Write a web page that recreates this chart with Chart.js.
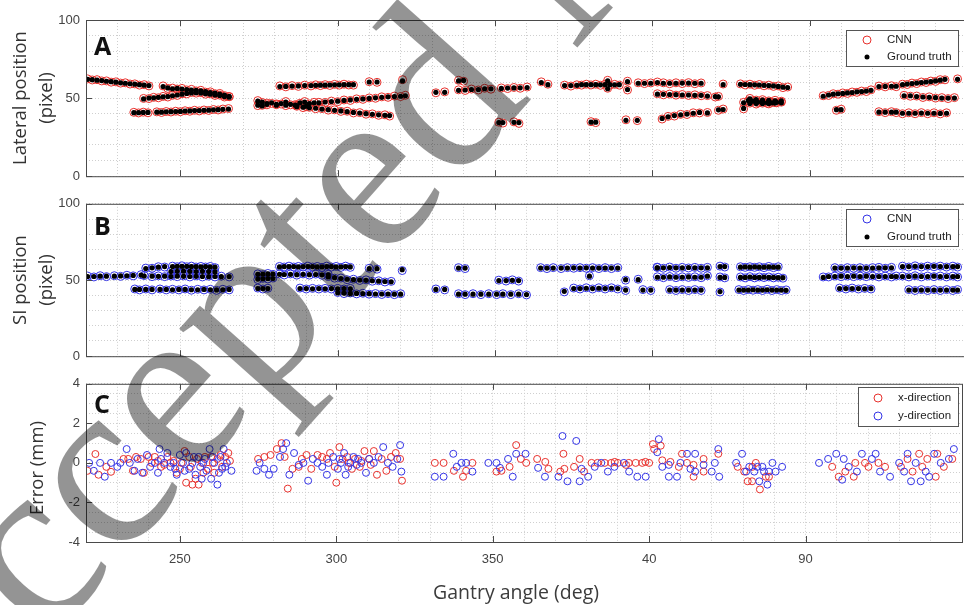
<!DOCTYPE html>
<html>
<head>
<meta charset="utf-8">
<script src="https://cdn.jsdelivr.net/npm/chart.js@4.4.1/dist/chart.umd.min.js"></script>
<style>
  html, body { margin: 0; padding: 0; background: #fff; width: 964px; height: 605px; overflow: hidden; }
  canvas { position: absolute; left: 0; }
  #marcaAgua { top: 0; pointer-events: none; }
</style>
</head>
<body>
<canvas id="panelA" style="top:0" width="972" height="190"></canvas>
<canvas id="panelB" style="top:190px" width="972" height="180"></canvas>
<canvas id="panelC" style="top:370px" width="972" height="235"></canvas>
<canvas id="marcaAgua" width="964" height="605"></canvas>
<script>
// ============================================================
//  Posiciones y errores vs. ángulo de gantry (3 paneles)
// ============================================================

const MARCAS_X    = [250, 300, 350, 400, 450];
const ETIQUETAS_X = ['250', '300', '350', '40', '90'];
const MARCAS_POS  = [0, 50, 100];
const MARCAS_ERR  = [-4, -2, 0, 2, 4];

// ---------------- Panel A: posición lateral (pixel) ----------------
const anguloA = [
  220.5,222,223.5,225,226.5,228,229.5,231,232.5,234,235.5,237,238.5,240,
  244.5,246,247.5,249,250.5,252,253.5,255,256.5,258,259.5,261,262.5,264,265.5,
  238.3,240,241.5,243,244.5,246,247.5,249,250.5,252,253.5,255,256.5,258,259.5,261,262.5,264,265.5,
  235.2,236.7,238.2,239.7,242.5,244,245.5,247,248.5,250,251.5,253,254.5,256,257.5,259,260.5,262,263.5,265.3,
  274.6,276,277.5,279,280.5,282,283.5,285,286.5,288,289.5,291,292.5,
  274.6,276,277.5,280.5,283.5,287,290,
  281.6,283.5,285.5,287.5,289.5,291.5,293,294.5,296,297.5,299,300.5,302,303.5,305,
  310,312.5,320.6,
  294,296,298,300,302,304,306,308,310,312,314,316,318,320,321.5,
  287,289,291,293,295,297,299,301,303,305,307,309,311,313,315,316.5,
  331.2,334,338.4,340.5,342.5,344.7,346.7,348.7,352,354,356,358,360.2,
  338.4,340,351.2,352.5,356,357.6,
  364.7,366.8,372.1,374.1,376,377.5,379,380.5,382,383.5,385,386.5,388,389.5,
  385.8,385.8,392.1,392.1,395.5,397.5,399.5,380.5,382,391.6,395.2,
  401.6,403.5,405.5,407.5,409.5,411.5,413.5,415.5,
  401.6,403.5,405.5,407.5,409.5,411.5,413.5,415.5,417.5,
  403.1,405,407,409,411,413,415,417.5,
  421,422.5,421,422.5,420,
  428,429.5,431,432.5,434,435.5,437,438.5,440,441.5,443,
  429,430.5,432,433.5,435,436.5,438,439.5,441,
  429,431,433,435,437,439,
  431,433,435,437,439,441,
  454.3,456,457.5,459,460.5,462,463.5,465,466.5,468,469.5,
  458.5,460,472,474,476,477.5,
  479.5,481,482.5,484,485.5,487,488.5,490,491.5,493,497,
  480,482,484,486,488,490,492,494,496,
  472,474,476,477.5,479.5,481.5,483.5,485.5,487.5,489.5,491.5,493.5
];
const lateralReal = [
  62,61.8,61.5,61.2,60.8,60.5,60.2,59.8,59.5,59.2,58.9,58.6,58.3,58,
  57.4,56.5,56,56.2,55.8,55.5,55.2,55,54.6,54.2,53.6,53.2,52.6,52,51.2,
  49.5,50,50.2,50.5,50.8,51,51.5,52,52.5,53,53.3,53.5,53.2,52.8,52.5,52,51.6,51,50.6,
  40.7,40.7,40.8,40.8,41,41,41.2,41.3,41.4,41.5,41.7,41.8,42,42,42.2,42.3,42.5,42.6,42.8,43,
  48,47.5,46.5,47,46,46.5,47.5,46,45.5,47,47.5,46.5,47,
  45.5,45,46,45.5,45.5,45.2,44.8,
  57.4,57.5,57.7,57.8,58,58,58.2,58.3,58.3,58.4,58.5,58.5,58.6,58.6,58.6,
  60.3,60.3,61,
  47,47.5,47.8,48,48.5,48.8,49.2,49.5,49.8,50.2,50.5,50.8,51,51.2,51.5,
  44.5,44.2,43.8,43.5,43,42.6,42.2,41.8,41.3,40.8,40.4,40,39.6,39.3,39,38.8,
  53.7,53.7,55,55.2,55.5,55.5,56,56,56.2,56.4,56.5,56.6,56.8,
  61,61.3,34.3,34.3,34.5,34.3,
  60,58.6,58,58,58.2,58.6,58.6,58.6,58.6,58.5,58.6,58.6,58.5,58.6,
  61,56,60.5,55.5,59.5,59.5,59.5,34.6,34.6,35.8,35.8,
  60,59.5,59.5,59.5,59.6,59.6,59.5,59.5,
  52.5,52.4,52.3,52.2,52,52,51.8,51.8,51.3,
  37,38,38.8,39.3,39.8,40.3,40.8,40.5,
  50.8,58.6,42.5,42.7,51,
  58.8,58.7,58.6,58.5,58.4,58.2,58,57.8,57.5,57,56.8,
  47,48.5,48,47.5,47.5,47,47,47.3,47,
  43.4,46.5,46.5,46.5,46.6,46.8,
  49.5,49,48.7,48.5,48.3,48.3,
  51.2,52,52.5,52.8,53,53.3,53.6,54,54.2,54.5,55,
  42.6,42.6,57.4,57.5,57.6,57.6,
  58.6,59,59.3,59.6,60,60.3,60.6,61,61.5,62,62,
  51.5,51.5,51,50.7,50.5,50.3,50,50,50,
  41,41,41,41,40.3,40.3,40.3,40.4,40.3,40.3,40.2,40.3
];
const lateralCNN = [
  62.3,61.6,61.8,61,61,60.2,60.4,59.6,59.8,59,59.1,58.3,58.6,57.8,
  57.8,56.2,56.4,55.8,56.2,55.2,55.6,54.6,55,53.8,54,52.8,53,51.6,51,
  49.8,49.7,50.5,50.2,51.1,50.7,51.8,51.7,52.8,52.7,53.6,53.2,53.5,52.5,52.8,51.7,51.9,50.7,50.9,
  40.9,40.5,41,40.6,41.2,40.8,41.4,41.1,41.6,41.3,41.9,41.6,42.2,41.8,42.4,42.1,42.7,42.4,43,43.3,
  48.4,47.2,46.8,46.6,46.3,46.2,47.8,45.7,45.8,46.7,47.8,46.2,47.3,
  45.2,45.4,45.7,45.8,45.2,45.5,44.5,
  57.8,57.2,58,57.5,58.3,57.8,58.5,58,58.6,58.1,58.8,58.3,58.9,58.4,58.3,
  60.5,60.1,61.8,
  47.3,47.2,48.1,47.7,48.8,48.5,49.5,49.2,50.1,49.9,50.8,50.5,51.3,51,51.8,
  44.8,43.9,44.1,43.2,43.3,42.3,42.5,41.5,41.6,40.5,40.7,39.7,39.9,39,39.3,38.5,
  53.4,54,55.3,54.9,55.8,55.2,56.3,55.7,56.5,56.1,56.8,56.3,57.1,
  61.4,60.8,34.6,34,34.8,33.8,
  60.4,58.9,58.3,57.7,58.5,58.3,58.9,58.4,58.9,58.2,58.9,58.3,58.8,58.3,
  61.4,56.3,60.8,55.2,59.8,59.3,59.7,34.9,34.3,36.1,35.6,
  60.3,59.8,59.2,59.8,59.3,59.9,59.2,59.7,
  52.8,52.1,52.6,51.9,52.3,51.7,52.1,51.5,51.6,
  36.6,38.3,38.5,39.6,39.5,40.6,40.5,40.8,
  51.1,59,42.2,43,50.7,
  59.1,58.4,58.9,58.2,58.7,57.9,58.3,57.5,57.8,56.7,57.1,
  47.3,48.2,48.3,47.2,47.8,46.7,47.3,47,47.4,
  43.1,46.8,46.2,46.8,46.3,47.1,
  49.8,48.7,49,48.2,48.6,48,
  51.5,51.7,52.8,52.5,53.3,53,53.9,53.7,54.5,54.2,55.3,
  42.2,42.9,57.7,57.2,57.9,57.3,
  58.9,58.7,59.6,59.3,60.3,60,60.9,60.7,61.8,61.7,62.3,
  51.8,51.2,51.3,50.4,50.8,50,50.3,49.7,50.3,
  41.3,40.7,41.3,40.7,40,40.6,40,40.7,40,40.6,39.9,40.6
];

// ---------------- Panel B: posición SI (pixel) ----------------
const anguloB = [
  220.5,222.5,224.5,226.5,229,231,233,235,237.5,
  239,241,243,245,247.5,249,250.5,252,253.5,255,256.5,258,259.5,261,
  247,249,251,253,255,257,259,261,
  238.5,241,243,245,247,249,251,253,255,257,259,261,263,265.5,
  235.5,237,239,241,243.5,245.5,247.5,249.5,251.5,253.5,255.5,257.5,259.5,261.5,263.5,265.5,
  274.6,276.2,277.8,279.4,
  274.6,276.2,277.8,279.4,
  274.6,276.2,277.8,
  281.5,283,284.5,286,287.5,289,290.5,292,293.5,295,296.5,298,299.5,301,302.5,304,
  281.5,283,285,287,289,291,293,295,297,
  297,299,301,303,305,307,309,311,313,315,317,
  288,290,292,294,296,298,300,302,304,
  300,302,304,306,308,310,312,314,316,318,320,
  310,312.5,320.5,
  331.2,334,
  338.4,340.5,
  338.4,340.5,343,345.5,348,350.5,352.5,355,357.5,360,
  351.2,353.5,355.5,357.5,
  364.5,366.5,368.5,371,373,375,377,379,381,383,385,387,389,
  372,375,377,379,381,383,385,387,389,
  380,391.5,395.5,391.5,397,399.5,401.5,
  401.6,403.5,405.5,407.5,409.5,411.5,413.5,415.5,417.5,421.5,423,
  401.6,403.5,405.5,407.5,409.5,411.5,413.5,415.5,417.5,421.5,423,
  405.5,407.5,409.5,411.5,413.5,415.5,421.5,
  428,429.5,431,432.5,434,435.5,437,438.5,440,
  428,429.5,431,432.5,434,435.5,437,438.5,440,441.5,
  427.5,429,430.5,432,433.5,435,436.5,438,439.5,441,442.5,
  454.3,456,458,460,462,464,466,468,470,472,474,476,477.5,
  458,460,462,464,466,468,470,472,474,476,
  459.5,461.5,463.5,465.5,467.5,469.5,
  479.5,481.5,483.5,485.5,487.5,489.5,491.5,493.5,495.5,497,
  479.5,481.5,483.5,485.5,487.5,489.5,491.5,493.5,495.5,497,
  481.5,483.5,485.5,487.5,489.5,491.5,493.5,495.5,497
];
const siReal = [
  52.3,52.3,52.5,52.5,52.5,52.7,52.8,53,53.2,
  57.5,58,58.4,58.8,58.8,59,59,59,58.8,58.8,58.6,58.8,58.6,58.4,
  55.5,55.7,55.8,55.7,55.5,55.7,55.5,55.3,
  52.6,52.5,52.4,52.5,52.3,52.5,52.4,52.3,52.4,52.3,52.2,52.3,52.2,52.3,
  43.8,43.8,43.8,43.8,43.8,43.8,43.6,43.8,43.8,43.6,43.6,43.8,43.6,43.5,43.6,43.8,
  53.7,53.8,54,54,
  50.6,50.8,51,51,
  44.4,44.4,44.4,
  58.6,58.8,58.8,58.8,58.6,58.8,58.8,58.8,58.6,58.6,58.8,58.8,58.6,58.6,58.8,58.6,
  53.7,53.6,53.7,53.5,53.7,53.5,53.6,53.4,53.4,
  52,51.5,51,50.5,50.2,50,49.8,49.5,49.2,49,48.8,
  44.4,44.4,44.2,44.4,44.2,44.4,44.2,44.4,44.2,
  41.5,41.4,41.2,41.2,41,41,40.8,40.8,40.8,40.7,40.7,
  57.4,57.4,56.8,
  43.8,43.8,
  57.8,57.8,
  40.7,40.7,40.7,40.7,40.7,40.7,40.7,40.7,40.7,40.5,
  49.6,49.6,49.8,49.6,
  57.8,57.8,57.8,57.8,57.8,58,57.8,58,57.8,57.8,57.8,57.8,57.8,
  42.6,44.4,44.4,44.6,44.4,44.6,44.4,44.6,44.4,
  52.5,50.2,50.2,43.4,43.4,43.4,58,
  58,58,58.2,58,58,58.2,58,58,58,58.8,58.8,
  51.8,51.8,52,51.8,51.8,52,51.8,51.8,52.5,51.7,51.7,
  43.4,43.4,43.4,43.4,43.4,43.4,42.4,
  58.4,58.6,58.4,58.6,58.4,58.4,58.6,58.4,58.4,
  51.7,51.7,51.9,51.7,51.7,51.9,51.7,51.7,51.5,51.5,
  43.4,43.4,43.4,43.6,43.4,43.4,43.6,43.4,43.4,43.4,43.2,
  51.7,52.3,52.3,52.5,52.3,52.5,52.3,52.5,52.3,52.3,52.3,52.3,52.3,
  57.8,57.8,57.8,58,57.8,57.8,57.8,58,58,58,
  44.4,44.4,44.4,44.4,44.2,44.4,
  58.8,58.8,59,58.8,58.8,59,58.8,58.8,58.8,58.8,
  52.3,52.3,52.5,52.3,52.3,52.5,52.3,52.3,52.3,52.3,
  43.4,43.4,43.4,43.4,43.4,43.4,43.4,43.4,43.4
];
const siCNN = [
  52.6,52,52.8,52.2,52.8,52.4,53.1,52.7,53.5,
  57.8,57.7,58.7,58.5,59.1,58.7,59.3,58.7,59.1,58.5,58.9,58.5,58.9,58.1,
  55.8,55.4,56.1,55.4,55.8,55.4,55.8,55,
  52.9,52.2,52.7,52.2,52.6,52.2,52.7,52,52.7,52,52.5,52,52.5,52,
  44.1,43.5,44.1,43.5,44.1,43.5,43.9,43.5,44.1,43.3,43.9,43.5,43.9,43.2,43.9,43.5,
  54,53.5,54.3,53.7,
  50.3,51.1,50.7,51.3,
  44.7,44.1,44.6,
  58.9,58.5,59.1,58.5,58.9,58.5,59.1,58.5,58.9,58.3,59.1,58.5,58.9,58.3,59.1,58.3,
  54,53.3,54,53.2,54,53.2,53.9,53.1,53.7,
  52.3,51.2,51.3,50.2,50.5,49.7,50.1,49.2,49.5,48.7,49.1,
  44.7,44.1,44.5,44.1,44.5,44.1,44.5,44.1,44.5,
  41.8,41.1,41.5,40.9,41.3,40.7,41.1,40.5,41.1,40.4,41,
  57.7,57.1,56.2,
  44.1,43.5,
  58.1,57.5,
  41,40.4,41,40.4,41,40.4,41,40.4,41,40.2,
  49.9,49.3,50.1,49.3,
  58.1,57.5,58.1,57.5,58.1,57.7,58.1,57.7,58.1,57.5,58.1,57.5,58.1,
  42.2,44.7,44.1,44.9,44.1,44.9,44.1,44.9,44.1,
  52.8,49.9,50.5,43.1,43.7,43.1,58.4,
  58.3,57.7,58.5,57.7,58.3,57.9,58.3,57.7,58.3,59.1,58.5,
  52.1,51.5,52.3,51.5,52.1,51.7,52.1,51.5,52.8,52,51.4,
  43.7,43.1,43.7,43.1,43.7,43.1,42.1,
  58.7,58.3,58.7,58.3,58.7,58.1,58.9,58.1,58.7,
  52,51.4,52.2,51.4,52,51.6,52,51.4,51.8,51.2,
  43.7,43.1,43.7,43.3,43.7,43.1,43.9,43.1,43.7,43.1,43.5,
  52,52,52.6,52.2,52.6,52.2,52.6,52.2,52.6,52,52.6,52,52.6,
  58.1,57.5,58.1,57.7,58.1,57.5,58.1,58.3,57.7,58.3,
  44.7,44.1,44.7,44.1,44.5,44.1,
  59.1,58.5,59.3,58.5,59.1,58.7,59.1,58.5,59.1,58.5,
  52.6,52,52.8,52,52.6,52.2,52.6,52,52.6,52,
  43.7,43.1,43.7,43.1,43.7,43.1,43.7,43.1,43.7
];

// ---------------- Panel C: error (mm) ----------------
const anguloErrX = [
  220.5,223,224,226.5,228,232,233.5,235,236,237.5,238.5,240,241,242,243,244,245,246,247,248,249,250,250.5,251.5,252,253,253.5,254,255,255.5,256,257,257.5,258,259,260,260.5,261,262,263,263.5,264.5,265.5,266,
  275,277,279,281,282.5,283.5,284.5,286,288,289,290.5,292,294,295.5,297,
  298,299.5,300,301,302,303.5,304,305,306,307.5,308,309,310.5,311,312,313,314.5,316,317.5,319,320.4,321,
  331.5,334.3,337.6,340.5,341.5,343.5,351.2,352.8,355.4,357.5,359,360.7,364.2,366.8,367.8,371.6,372.6,372.9,376,377.8,379.2,381.6,385.8,387.9,390,392.6,395.7,397.8,400,401.6,383.5,389,393.5,398.8,
  401.2,403.7,404.2,406.8,409.5,410.5,412.1,414.2,414.2,417.4,417.4,422.1,
  428.3,430.4,431.5,432.9,433,434.1,435.4,437.3,438.3,
  458.5,460.6,462.7,465.4,465.9,469,470.1,473.3,475.4,480.5,482.6,484.2,486.3,487.3,488.9,491.6,492.1,494.2,496.9
];
const errorX = [
  -0.4,0.45,-0.6,-0.2,-0.45,0.2,0.2,-0.4,0.3,0.2,-0.5,0.3,0,0.3,0.1,-0.2,-0.1,0.3,0,0.1,-0.5,-0.3,0,0.6,-1.0,0.3,-0.2,-1.1,-0.8,0.2,-1.1,0,-0.5,0.3,-0.3,0.3,0,-0.5,0.2,0.4,-0.2,0.3,0.5,0.1,
  0.2,0.3,0.4,0.7,1.0,0.3,-1.3,-0.3,-0.2,0.2,0.4,-0.3,0.4,0.3,0.2,
  0.5,-0.2,-1.0,0.8,0.2,0.3,0,-0.3,0.2,-0.2,0.1,0.6,0.2,-0.1,0.6,-0.6,0.2,-0.4,0.3,0.5,0.2,-0.9,
  0,0,-0.4,-0.7,-0.4,0,-0.44,-0.4,-0.2,0.9,0.2,0,0.2,0.05,-0.3,-0.44,0.46,-0.3,-0.2,0.2,-0.44,0,0,0,0,-0.1,0,0,0,0.7,0,0.05,0,0.05,
  0.95,0.87,0.13,0.05,-0.2,0.46,0,-0.7,-0.1,0.2,-0.44,0.46,
  -0.2,-0.44,-0.93,-0.93,-0.2,0,-1.34,-0.7,-0.7,
  -0.2,-0.7,-0.44,-0.7,0,0,-0.2,0,-0.2,-0.2,0.2,-0.44,0.46,-0.2,0.2,-0.7,0.46,-0.2,0.2
];
const anguloErrY = [
  221,222.5,224.5,226,228,230,231,233,234,235.5,236.5,238,239.5,240.5,242,243,243.5,244,245,246,247,248,248.5,249,250,251,251.5,252,253,254,254.5,255,256,256.5,257,257.5,258,258.5,259.5,260,260.5,261,262,262.5,263,263.5,264,264.5,265,266.5,
  274.5,275.5,277,278.5,280,282,283,284,285,286.5,288,289.5,291,292.5,294,295.5,297,
  297.5,299,300.5,301,301.5,302.5,303,303.8,304.5,305.5,306.5,307,308,309.5,310.5,312,313.5,315,316.5,318,319.5,320.4,320.8,
  331.5,334.3,337.4,338.5,340,341.5,343.5,348.6,351.2,352.3,354.9,356.4,357.5,360.5,364.5,366.7,371,372.3,373.9,376.7,377.8,378.4,380.5,382.6,384.7,386.8,388.9,391.9,393.6,396.2,398.9,
  402.6,403.1,404.2,406.3,406.3,408.9,410,412.1,413.2,414.7,414.7,417.4,420,421,422.1,422.4,
  427.8,429.7,431,432,433.6,434.6,435.2,436.2,436.7,437.8,438.3,439.4,440.4,442.5,
  454.3,457.2,459.8,461.7,462.2,463.8,466.4,468,471.2,472.4,473.8,477,479.9,481.5,482.6,483.7,485.2,486.8,488.4,489.5,491.1,493.2,495.8,497.4
];
const errorY = [
  0,-0.4,0,-0.7,0,-0.2,0,0.7,0,-0.4,0.2,-0.5,0.4,-0.2,0,-0.5,0.7,0.2,0,0.5,-0.2,0,-0.3,-0.6,0.4,0,-0.4,0.5,-0.3,0,0.3,-0.6,0.3,-0.2,-0.8,0,0.2,-0.4,0.7,-0.8,0.3,0,-1.1,-0.5,0.3,-0.3,0.7,-0.2,0,-0.4,
  -0.4,0,-0.3,-0.6,-0.3,0.3,0.7,1.0,-0.6,0.5,-0.1,0,-0.9,0.2,0,-0.2,-0.6,
  0,0.3,-0.3,0.2,0,0.5,-0.6,-0.2,0,0.3,-0.1,0.2,0,-0.5,0.2,0,0.3,0.8,0,-0.2,0.2,0.9,-0.44,
  -0.7,-0.7,0.46,-0.2,0,0,-0.44,0,0,-0.25,0.2,-0.7,0.46,0.46,-0.25,-0.7,-0.7,1.36,-0.93,1.11,-0.93,-0.3,-0.7,-0.2,0,-0.44,-0.2,0,-0.44,-0.7,-0.7,
  0.54,1.2,-0.2,-0.1,-0.7,-0.7,0,0.46,-0.3,0.46,-0.44,-0.1,-0.44,0,0.7,-0.7,
  0,0.46,-0.44,-0.2,-0.44,-0.2,-0.93,-0.2,-0.44,-1.1,-0.44,0,-0.44,-0.2,
  0,0.2,0.46,-0.85,0.2,-0.2,-0.44,0.46,0.2,0.46,-0.44,-0.7,0,-0.44,0.46,-0.93,0,-0.93,-0.44,-0.7,0.46,0,0.2,0.7
];

// ---------------------------------------------------------------
// Estilos
// ---------------------------------------------------------------
const ROJO  = '#e8312d';
const AZUL  = '#3434e6';
const NEGRO = '#000000';
const REJILLA = '#cfcfcf';
const FUENTE_TICKS = { family: '"Liberation Sans", Arial, sans-serif', size: 13 };

function puntos(xs, ys) {
  return xs.map((x, i) => ({ x: x, y: ys[i] }));
}

// ---------------------------------------------------------------
// Marco estilo MATLAB, letra del panel, título Y y leyenda
// ---------------------------------------------------------------
const marcoPlugin = {
  id: 'marco',
  afterDraw(chart, args, p) {
    const { ctx, chartArea: a } = chart;
    const sx = chart.scales.x, sy = chart.scales.y;
    ctx.save();

    ctx.strokeStyle = '#4a4a4a';
    ctx.lineWidth = 1;
    ctx.strokeRect(a.left + 0.5, a.top + 0.5, a.right - a.left, a.bottom - a.top);
    ctx.beginPath();
    MARCAS_X.forEach(v => {
      const x = Math.round(sx.getPixelForValue(v)) + 0.5;
      ctx.moveTo(x, a.top); ctx.lineTo(x, a.top + 6);
      ctx.moveTo(x, a.bottom); ctx.lineTo(x, a.bottom - 6);
    });
    p.marcasY.forEach(v => {
      const y = Math.round(sy.getPixelForValue(v)) + 0.5;
      ctx.moveTo(a.left, y); ctx.lineTo(a.left + 6, y);
    });
    ctx.stroke();

    // letra del panel
    ctx.fillStyle = '#111';
    ctx.font = 'bold 25px "Open Sans", sans-serif';
    ctx.textAlign = 'left';
    ctx.textBaseline = 'alphabetic';
    ctx.fillText(p.letra, 94, p.letraY);

    // título eje Y
    ctx.fillStyle = '#333';
    ctx.font = '18.5px "Open Sans", sans-serif';
    ctx.textAlign = 'center';
    ctx.textBaseline = 'middle';
    p.tituloY.forEach((t, i) => {
      ctx.save();
      ctx.translate(p.tituloYX[i], p.tituloYY);
      ctx.rotate(-Math.PI / 2);
      ctx.fillText(t, 0, 0);
      ctx.restore();
    });

    // leyenda
    const L = p.leyenda;
    ctx.fillStyle = '#fff';
    ctx.fillRect(L.x, L.y, L.w, L.h);
    ctx.strokeStyle = '#555';
    ctx.strokeRect(L.x + 0.5, L.y + 0.5, L.w, L.h);
    ctx.font = '11.5px "Liberation Sans", Arial, sans-serif';
    ctx.textAlign = 'left';
    L.items.forEach((it, i) => {
      const y = L.y + L.filas[i];
      ctx.beginPath();
      if (it.relleno) {
        ctx.fillStyle = it.color;
        ctx.arc(L.x + L.marca, y, 2.5, 0, Math.PI * 2);
        ctx.fill();
      } else {
        ctx.strokeStyle = it.color;
        ctx.arc(L.x + L.marca, y, 4, 0, Math.PI * 2);
        ctx.stroke();
      }
      ctx.fillStyle = '#222';
      ctx.fillText(it.texto, L.x + L.texto, y);
    });

    // título eje X (solo panel inferior)
    if (p.tituloX) {
      ctx.fillStyle = '#3c3c3c';
      ctx.font = '19.5px "Open Sans", sans-serif';
      ctx.textAlign = 'center';
      ctx.fillText(p.tituloX, 516, 223);
    }
    ctx.restore();
  }
};

function opcionesPanel(p) {
  return {
    responsive: false,
    devicePixelRatio: 1,
    animation: false,
    events: [],
    layout: { padding: { top: p.arriba, left: 0, right: 0, bottom: 0 } },
    plugins: { legend: { display: false }, tooltip: { enabled: false }, marco: p },
    scales: {
      x: {
        type: 'linear', min: 220, max: 500,
        afterFit: s => { s.height = p.altoX; },
        grid: { color: REJILLA, lineWidth: 1, drawTicks: false },
        border: { display: false, dash: [1, 2] },
        ticks: {
          display: !!p.tituloX, stepSize: 10, maxTicksLimit: 100, autoSkip: false,
          maxRotation: 0, padding: 10, color: '#444', font: FUENTE_TICKS,
          callback: v => { const i = MARCAS_X.indexOf(v); return i >= 0 ? ETIQUETAS_X[i] : ''; }
        }
      },
      y: {
        type: 'linear', min: p.ymin, max: p.ymax,
        afterFit: s => { s.width = 86; },
        grid: { color: REJILLA, lineWidth: 1, drawTicks: false },
        border: { display: false, dash: [1, 2] },
        ticks: {
          stepSize: p.paso, maxTicksLimit: 100, autoSkip: false, padding: 6,
          color: '#444', font: FUENTE_TICKS,
          callback: v => p.marcasY.includes(v) ? String(v) : ''
        }
      }
    }
  };
}

function anillos(datos, color, r) {
  return { data: datos, pointRadius: r, pointBorderWidth: 1, pointBorderColor: color,
           pointBackgroundColor: 'rgba(0,0,0,0)', showLine: false };
}
function puntosLlenos(datos) {
  return { data: datos, pointRadius: 2.6, pointBorderWidth: 0, pointBorderColor: NEGRO,
           pointBackgroundColor: NEGRO, showLine: false };
}

// ---------------------------------------------------------------
// Panel A
// ---------------------------------------------------------------
new Chart(document.getElementById('panelA'), {
  type: 'scatter',
  data: { datasets: [
    { ...puntosLlenos(puntos(anguloA, lateralReal)), order: 0 },
    { ...anillos(puntos(anguloA, lateralCNN), ROJO, 4), order: 1 }
  ] },
  options: opcionesPanel({
    arriba: 20, altoX: 8, ymin: 0, ymax: 100, paso: 10, marcasY: MARCAS_POS,
    letra: 'A', letraY: 55,
    tituloY: ['Lateral position', '(pixel)'], tituloYX: [21, 47], tituloYY: 98,
    leyenda: { x: 846, y: 30, w: 112, h: 36, marca: 21, texto: 41, filas: [10, 27],
      items: [{ texto: 'CNN', color: ROJO }, { texto: 'Ground truth', color: NEGRO, relleno: true }] }
  }),
  plugins: [marcoPlugin]
});

// ---------------------------------------------------------------
// Panel B
// ---------------------------------------------------------------
new Chart(document.getElementById('panelB'), {
  type: 'scatter',
  data: { datasets: [
    { ...puntosLlenos(puntos(anguloB, siReal)), order: 0 },
    { ...anillos(puntos(anguloB, siCNN), AZUL, 4), order: 1 }
  ] },
  options: opcionesPanel({
    arriba: 10, altoX: 8, ymin: 0, ymax: 100, paso: 10, marcasY: MARCAS_POS,
    letra: 'B', letraY: 45,
    tituloY: ['SI position', '(pixel)'], tituloYX: [21, 47], tituloYY: 90,
    leyenda: { x: 846, y: 19, w: 112, h: 37, marca: 21, texto: 41, filas: [10, 28],
      items: [{ texto: 'CNN', color: AZUL }, { texto: 'Ground truth', color: NEGRO, relleno: true }] }
  }),
  plugins: [marcoPlugin]
});

// ---------------------------------------------------------------
// Panel C
// ---------------------------------------------------------------
new Chart(document.getElementById('panelC'), {
  type: 'scatter',
  data: { datasets: [
    { ...anillos(puntos(anguloErrY, errorY), AZUL, 3.5), order: 0 },
    { ...anillos(puntos(anguloErrX, errorX), ROJO, 3.5), order: 1 }
  ] },
  options: opcionesPanel({
    arriba: 9, altoX: 63, ymin: -4, ymax: 4, paso: 0.5, marcasY: MARCAS_ERR,
    letra: 'C', letraY: 43,
    tituloY: ['Error (mm)'], tituloYX: [38], tituloYY: 98,
    tituloX: 'Gantry angle (deg)',
    leyenda: { x: 858, y: 17, w: 100, h: 39, marca: 20, texto: 40, filas: [11, 29],
      items: [{ texto: 'x-direction', color: ROJO }, { texto: 'y-direction', color: AZUL }] }
  }),
  plugins: [marcoPlugin]
});

// ---------------------------------------------------------------
// Marca de agua
// ---------------------------------------------------------------
const wm = document.getElementById('marcaAgua').getContext('2d');
wm.save();
wm.translate(-70, 774);
wm.rotate(-48.3 * Math.PI / 180);
wm.font = '240px "Liberation Serif", "Times New Roman", serif';
wm.fillStyle = 'rgba(0,0,0,0.42)';
wm.fillText('Accepted Manuscript', 0, 0);
wm.restore();
</script>
</body>
</html>
